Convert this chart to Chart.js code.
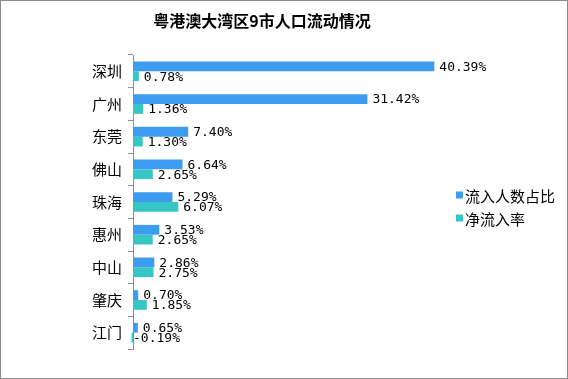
<!DOCTYPE html>
<html><head><meta charset="utf-8">
<script src="https://cdn.jsdelivr.net/npm/chart.js@4/dist/chart.umd.min.js"></script>
<style>html,body{margin:0;padding:0;background:#fff;}canvas{display:block;}</style>
</head><body>
<canvas id="c" width="568" height="379"></canvas>
<script>
const titleText = "粤港澳大湾区9市人口流动情况";
const categories = ["深圳","广州","东莞","佛山","珠海","惠州","中山","肇庆","江门"];
const seriesNames = ["流入人数占比","净流入率"];
const inflowShare = [40.39,31.42,7.40,6.64,5.29,3.53,2.86,0.70,0.65];
const netInflowRate = [0.78,1.36,1.30,2.65,6.07,2.65,2.75,1.85,-0.19];
const colors = ["#3d9bf0","#36c6c4"];

const decorPlugin = {
  id:'decor',
  afterDatasetsDraw(chart){
    const ctx = chart.ctx;
    ctx.save();
    ctx.font = '13px "DejaVu Sans Mono", monospace';
    ctx.fillStyle = '#000';
    ctx.textBaseline = 'middle';
    ctx.textAlign = 'left';
    chart.data.datasets.forEach((ds,di)=>{
      const meta = chart.getDatasetMeta(di);
      meta.data.forEach((bar,i)=>{
        const v = ds.data[i];
        const x = Math.max(bar.x, bar.base) + (v < 0 ? 0 : 5);
        ctx.fillText(v.toFixed(2)+'%', x, bar.y+1);
      });
    });
    // title
    ctx.font = 'bold 16px "Noto Sans CJK SC", sans-serif';
    ctx.textAlign = 'center';
    ctx.fillText(titleText, 262, 21);
    // legend
    ctx.font = '15px "Noto Sans CJK SC", sans-serif';
    ctx.textAlign = 'left';
    seriesNames.forEach((n,k)=>{
      const y = 195 + k*23;
      ctx.fillStyle = colors[k];
      ctx.fillRect(456, y-3.5, 7, 7);
      ctx.fillStyle = '#000';
      ctx.fillText(n, 465, y+1);
    });
    // border
    ctx.strokeStyle = '#8c8c8c';
    ctx.lineWidth = 1;
    ctx.strokeRect(0.5,0.5,567,378);
    ctx.restore();
  }
};

new Chart(document.getElementById('c'), {
  type:'bar',
  data:{
    labels:categories,
    datasets:[
      {label:seriesNames[0], data:inflowShare, backgroundColor:colors[0], clip:false,
       categoryPercentage:0.6, barPercentage:1},
      {label:seriesNames[1], data:netInflowRate, backgroundColor:colors[1], clip:false,
       categoryPercentage:0.6, barPercentage:1}
    ]
  },
  options:{
    indexAxis:'y',
    responsive:false,
    animation:false,
    devicePixelRatio:1,
    layout:{padding:{top:55,bottom:30,left:0,right:62}},
    plugins:{legend:{display:false},title:{display:false},tooltip:{enabled:false}},
    scales:{
      x:{display:false,min:0,max:50},
      y:{
        afterFit(s){ s.width = 133; },
        grid:{display:true,drawOnChartArea:false,drawTicks:true,tickLength:5,color:'#8c8c8c',offset:true},
        border:{display:true,color:'#8c8c8c'},
        ticks:{color:'#000',padding:6,font:{family:'"Noto Sans CJK SC", sans-serif',size:15}}
      }
    }
  },
  plugins:[decorPlugin]
});
</script>
</body></html>
